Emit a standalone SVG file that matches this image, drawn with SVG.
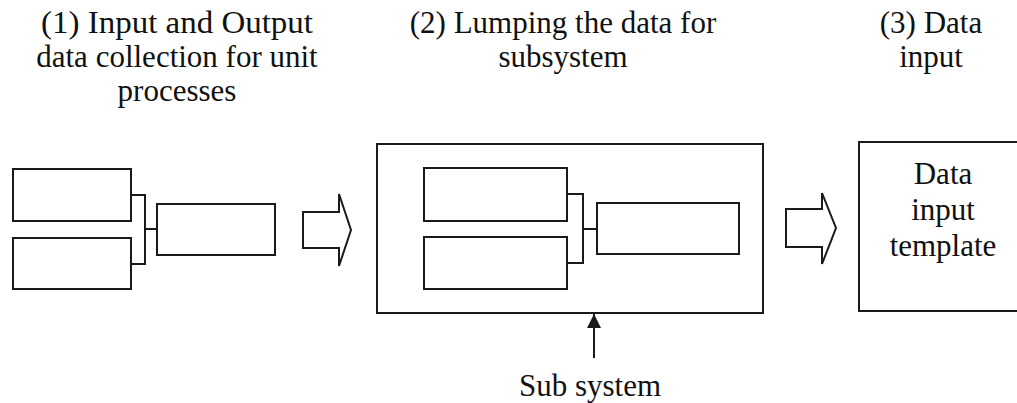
<svg xmlns="http://www.w3.org/2000/svg" width="1017" height="403" viewBox="0 0 1017 403">
  <style>
    .box { fill: none; stroke: #1a1a1a; stroke-width: 2; }
    .wire { fill: none; stroke: #1a1a1a; stroke-width: 2; }
    .label { font-family: "Liberation Serif", "Times New Roman", serif; font-size: 31px; fill: #111; text-anchor: middle; }
  </style>
  <defs>
    <marker id="head" viewBox="0 0 10 10" refX="10" refY="5" markerWidth="15" markerHeight="14" markerUnits="userSpaceOnUse" orient="auto">
      <path d="M0,0 L10,5 L0,10 Z" fill="#1a1a1a"/>
    </marker>
  </defs>
  <rect width="1017" height="403" fill="#fff"/>

  <!-- Stage headings -->
  <g id="heading-1">
    <text class="label" x="177" y="33" textLength="272" lengthAdjust="spacingAndGlyphs">(1) Input and Output</text>
    <text class="label" x="177" y="67">data collection for unit</text>
    <text class="label" x="177" y="101">processes</text>
  </g>
  <g id="heading-2">
    <text class="label" x="563" y="33">(2) Lumping the data for</text>
    <text class="label" x="563" y="67">subsystem</text>
  </g>
  <g id="heading-3">
    <text class="label" x="931" y="33">(3) Data</text>
    <text class="label" x="931" y="67">input</text>
  </g>

  <!-- Stage 1: unit processes -->
  <g id="unit-process-a"><rect class="box" x="13" y="169" width="118" height="52"/></g>
  <g id="unit-process-b"><rect class="box" x="13" y="238" width="118" height="51"/></g>
  <g id="unit-output"><rect class="box" x="157" y="204" width="118" height="51"/></g>

  <!-- Stage 2: subsystem -->
  <g id="subsystem">
    <rect class="box" x="377" y="144" width="386" height="169"/>
  </g>
  <g id="sub-process-a"><rect class="box" x="424" y="168" width="143" height="53"/></g>
  <g id="sub-process-b"><rect class="box" x="424" y="237" width="143" height="52"/></g>
  <g id="sub-output"><rect class="box" x="597" y="203" width="142" height="51"/></g>

  <!-- Stage 3: template -->
  <g id="template">
    <rect class="box" x="859" y="142" width="180" height="169"/>
    <text class="label" x="943" y="184">Data</text>
    <text class="label" x="943" y="220">input</text>
    <text class="label" x="943" y="256">template</text>
  </g>

  <g id="sub-system-label">
    <text class="label" x="590" y="396">Sub system</text>
  </g>

  <!-- Connectors -->
  <g id="connectors">
    <path class="wire" d="M131,195 H145 V264 H131 M145,229 H157"/>
    <path class="wire" d="M567,194 H583 V263 H567 M583,229 H597"/>
    <path class="wire" d="M303,212 H339 V194 L351,230 L339,266 V248 H303 Z"/>
    <path class="wire" d="M786,209 H822 V193 L836,228 L822,264 V247 H786 Z"/>
    <line class="wire" x1="594" y1="358" x2="594" y2="314" marker-end="url(#head)"/>
  </g>
</svg>
